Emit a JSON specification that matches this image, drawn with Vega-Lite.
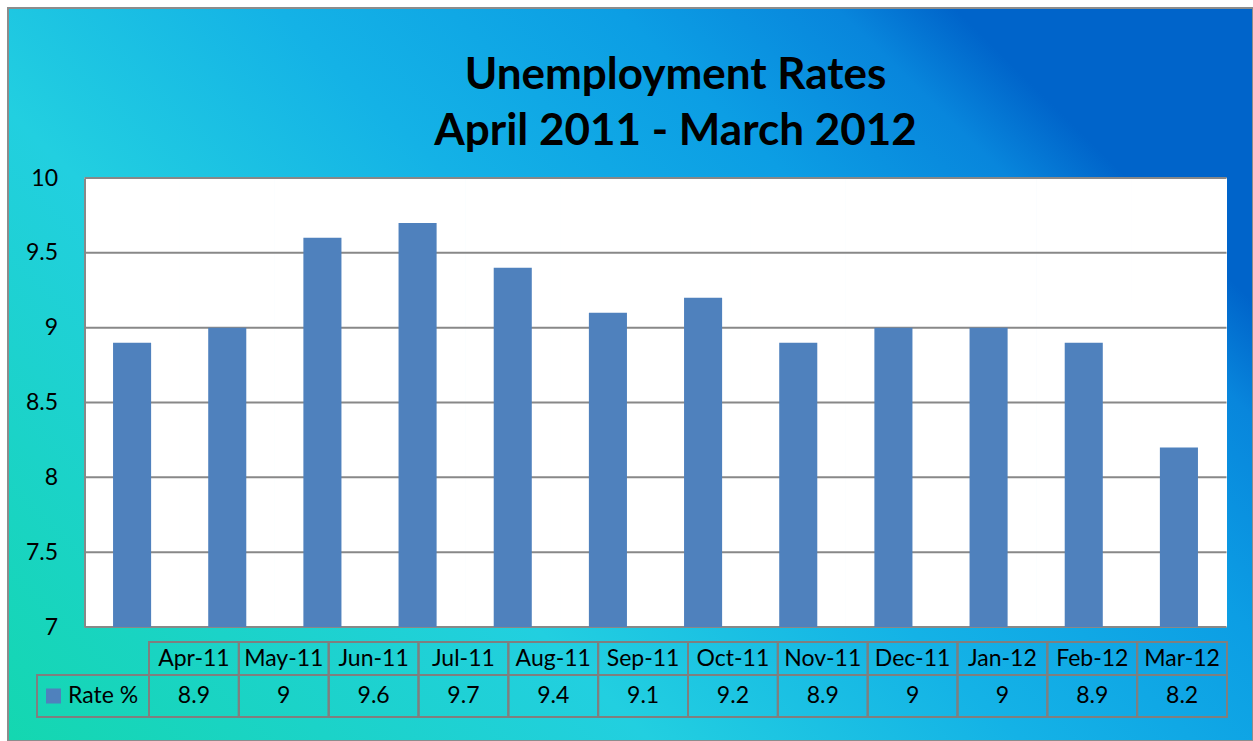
{
  "$schema": "https://vega.github.io/schema/vega-lite/v6.json",
  "width": 1245,
  "height": 733,
  "autosize": "none",
  "padding": {"left": 8, "top": 8, "right": 0, "bottom": 0},
  "background": "white",
  "view": {
    "fill": {
      "gradient": "linear",
      "x1": 0, "y1": 1, "x2": 1, "y2": 0.4,
      "stops": [
        {"offset": 0, "color": "#14d7b0"},
        {"offset": 0.38, "color": "#22cfe0"},
        {"offset": 0.6, "color": "#14b2e6"},
        {"offset": 0.8, "color": "#0c9ee4"},
        {"offset": 0.93, "color": "#0886dc"},
        {"offset": 1, "color": "#0064ca"}
      ]
    },
    "stroke": "#8c8c8c",
    "strokeWidth": 2
  },
  "config": {"font": "Lato"},
  "title": {
    "text": ["Unemployment Rates", "April 2011 - March 2012"],
    "font": "Lato",
    "fontWeight": "bold",
    "fontSize": 44,
    "lineHeight": 56,
    "color": "black",
    "anchor": "middle",
    "frame": "group",
    "dx": 45,
    "offset": -146
  },
  "datasets": {
    "rates": [
      {"month": "Apr-11", "rate": 8.9},
      {"month": "May-11", "rate": 9},
      {"month": "Jun-11", "rate": 9.6},
      {"month": "Jul-11", "rate": 9.7},
      {"month": "Aug-11", "rate": 9.4},
      {"month": "Sep-11", "rate": 9.1},
      {"month": "Oct-11", "rate": 9.2},
      {"month": "Nov-11", "rate": 8.9},
      {"month": "Dec-11", "rate": 9},
      {"month": "Jan-12", "rate": 9},
      {"month": "Feb-12", "rate": 8.9},
      {"month": "Mar-12", "rate": 8.2}
    ],
    "grid": [
      {"v": 7}, {"v": 7.5}, {"v": 8}, {"v": 8.5}, {"v": 9}, {"v": 9.5}, {"v": 10}
    ],
    "series": [{"series": "Rate %"}]
  },
  "layer": [
    {
      "data": {"name": "rates"},
      "encoding": {
        "x": {
          "field": "month", "type": "nominal", "sort": null, "axis": null,
          "scale": {
            "type": "band",
            "domain": ["Apr-11", "May-11", "Jun-11", "Jul-11", "Aug-11", "Sep-11", "Oct-11", "Nov-11", "Dec-11", "Jan-12", "Feb-12", "Mar-12"],
            "range": [76.5, 1218.5], "paddingInner": 0, "paddingOuter": 0
          }
        }
      },
      "layer": [
        {
          "mark": {"type": "bar", "color": "white", "stroke": "white", "strokeWidth": 1, "width": {"band": 1}},
          "encoding": {
            "y": {
              "datum": 10, "type": "quantitative",
              "scale": {"domain": [7, 10], "range": [619, 170], "nice": false, "zero": false},
              "axis": {
                "values": [7, 7.5, 8, 8.5, 9, 9.5, 10],
                "format": "~g",
                "grid": false, "ticks": false, "domain": true,
                "domainColor": "#888888", "domainWidth": 2,
                "offset": -76.5,
                "labelFont": "Lato", "labelFontSize": 23, "labelColor": "black",
                "labelPadding": 27, "labelFlush": false, "labelOverlap": false,
                "title": null, "zindex": 1
              }
            },
            "y2": {"datum": 7}
          }
        },
        {
          "data": {"name": "grid"},
          "mark": {"type": "rule", "color": "#888888", "strokeWidth": 2},
          "encoding": {
            "x": {"datum": "Apr-11", "bandPosition": 0},
            "x2": {"datum": "Mar-12", "bandPosition": 1},
            "y": {"field": "v", "type": "quantitative"}
          }
        },
        {
          "mark": {"type": "bar", "color": "#4f81bd", "width": {"band": 0.4}},
          "encoding": {
            "y": {"field": "rate", "type": "quantitative"},
            "y2": {"datum": 7}
          }
        }
      ]
    },
    {
      "data": {"name": "rates"},
      "encoding": {
        "x": {
          "field": "month", "type": "nominal", "sort": null, "axis": null,
          "scale": {
            "type": "band",
            "domain": ["Apr-11", "May-11", "Jun-11", "Jul-11", "Aug-11", "Sep-11", "Oct-11", "Nov-11", "Dec-11", "Jan-12", "Feb-12", "Mar-12"],
            "range": [141, 1219], "paddingInner": 0, "paddingOuter": 0
          }
        }
      },
      "layer": [
        {
          "encoding": {
            "y": {"datum": "header", "type": "nominal", "axis": null,
                  "scale": {"type": "band", "range": [634, 667], "paddingInner": 0, "paddingOuter": 0}}
          },
          "layer": [
            {"mark": {"type": "rect", "fill": "transparent", "stroke": "#7f7f7f", "strokeWidth": 2}},
            {"mark": {"type": "text", "font": "Lato", "fontSize": 23, "color": "black"},
             "encoding": {"text": {"field": "month", "type": "nominal"}}}
          ]
        },
        {
          "encoding": {
            "y": {"datum": "value", "type": "nominal", "axis": null,
                  "scale": {"type": "band", "range": [667, 709], "paddingInner": 0, "paddingOuter": 0}}
          },
          "layer": [
            {"mark": {"type": "rect", "fill": "transparent", "stroke": "#7f7f7f", "strokeWidth": 2}},
            {"mark": {"type": "text", "font": "Lato", "fontSize": 23, "color": "black"},
             "encoding": {"text": {"field": "rate", "type": "quantitative"}}}
          ]
        }
      ],
      "resolve": {"scale": {"y": "independent"}}
    },
    {
      "data": {"name": "series"},
      "encoding": {
        "x": {"field": "series", "type": "nominal", "axis": null,
              "scale": {"type": "band", "range": [29, 141], "paddingInner": 0, "paddingOuter": 0}},
        "y": {"field": "series", "type": "nominal", "axis": null,
              "scale": {"type": "band", "range": [667, 709], "paddingInner": 0, "paddingOuter": 0}}
      },
      "layer": [
        {"mark": {"type": "rect", "fill": "transparent", "stroke": "#7f7f7f", "strokeWidth": 2}},
        {"mark": {"type": "square", "size": 225, "color": "#4f81bd", "opacity": 1, "xOffset": -39.5}},
        {"mark": {"type": "text", "align": "left", "dx": -25, "font": "Lato", "fontSize": 23, "color": "black"},
         "encoding": {"text": {"field": "series", "type": "nominal"}}}
      ]
    }
  ],
  "resolve": {"scale": {"x": "independent", "y": "independent"}}
}
